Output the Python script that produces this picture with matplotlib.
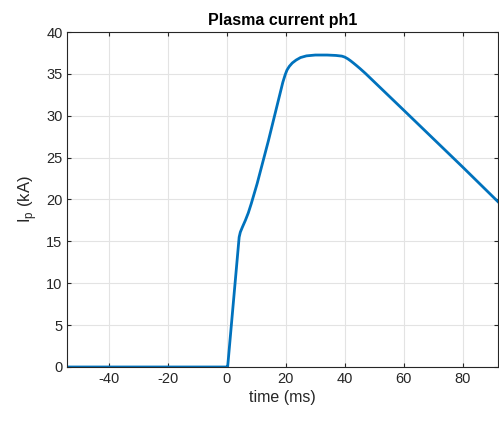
import matplotlib
matplotlib.use("Agg")
import matplotlib.pyplot as plt

plt.rcParams['font.family'] = ['Liberation Sans', 'DejaVu Sans']
plt.rcParams['axes.unicode_minus'] = False

time_ms = [-54, 0.0, 0.3, 4.2, 4.6, 5.3, 6.3, 7.3, 8.3, 9.3, 10.3, 14.1,
           19.0, 19.8, 20.4, 21.2, 22.2, 23.5, 25.0, 27.0, 30.0, 34.0, 37.0,
           39.0, 40.0, 41.0, 42.0, 43.0, 44.0, 45.2, 47.0, 60.0, 80.0, 92.0]
ip_kA = [0, 0, 0, 15.5, 16.1, 16.7, 17.5, 18.4, 19.5, 20.7, 21.9, 27.0,
         34.0, 34.9, 35.45, 35.9, 36.3, 36.65, 36.95, 37.15, 37.25, 37.25, 37.2,
         37.12, 37.0, 36.8, 36.55, 36.27, 35.98, 35.62, 35.05, 30.65, 23.85, 19.7]

x_ticks = [-40, -20, 0, 20, 40, 60, 80]
y_ticks = [0, 5, 10, 15, 20, 25, 30, 35, 40]

fig = plt.figure(figsize=(4.99, 4.25), dpi=100)
ax = fig.add_axes([0.135, 0.1365, 0.8636, 0.7882])
ax.plot(time_ms, ip_kA, color='#0072BD', linewidth=2.0, solid_joinstyle='round')
ax.set_xlim(-54, 92)
ax.set_ylim(0, 40)
ax.set_xticks(x_ticks)
ax.set_yticks(y_ticks)
ax.grid(True, color='#e3e3e3', linewidth=0.8)
ax.set_axisbelow(True)
ax.tick_params(direction='in', length=3, width=0.8, colors='#262626',
               labelsize=10.5, top=True, right=True, labeltop=False, labelright=False)
for s in ax.spines.values():
    s.set_color('#262626')
    s.set_linewidth(0.8)
ax.set_title('Plasma current ph1', fontsize=11.5, fontweight='bold', pad=5)
ax.set_xlabel('time (ms)', fontsize=11.5, color='#262626', labelpad=3)
ax.set_ylabel(r'I$_\mathregular{p}$ (kA)', fontsize=12, color='#262626', labelpad=5)

fig.savefig('out.png', dpi=100)
